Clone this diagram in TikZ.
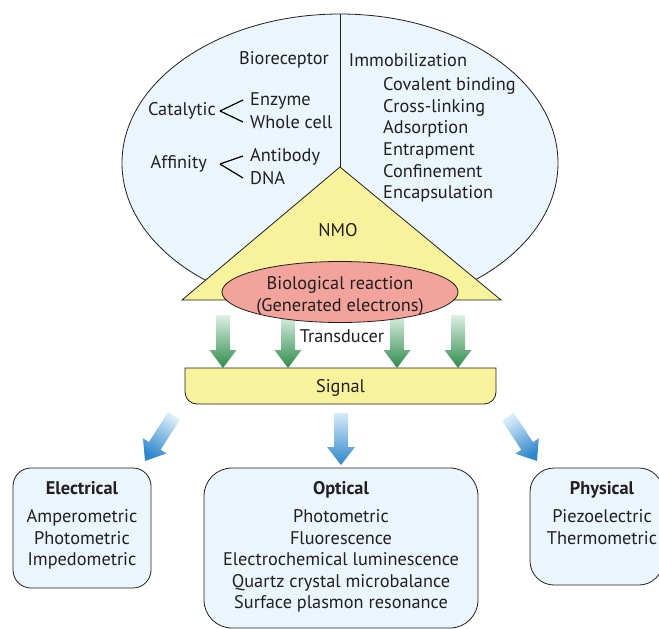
\documentclass[tikz,border=0pt]{standalone}
\usepackage{fontspec}
\setmainfont{PT Sans}
\usetikzlibrary{calc}

\definecolor{paleblue}{HTML}{EAF6FC}
\definecolor{padyellow}{HTML}{F8F29C}
\definecolor{salmon}{HTML}{F2A39B}
\definecolor{inkgray}{HTML}{231F20}
\definecolor{leafgreen}{HTML}{2E8B4A}
\definecolor{leafpale}{HTML}{DDF0E4}
\definecolor{skyblue}{HTML}{2E86CB}
\definecolor{skypale}{HTML}{D6ECF8}

\begin{document}
\begin{tikzpicture}[x=1pt, y=-1pt,
    every node/.style={text=inkgray, inner sep=1pt, font=\fontsize{18.3}{21.6}\selectfont},
    outline/.style={draw=inkgray, line width=0.8pt},
    techbox/.style={outline, fill=paleblue, rounded corners=#1},
    bracket/.style={draw=black, line width=1.2pt}]
\useasboundingbox (0,0) rectangle (659,629);

\draw[outline, fill=paleblue] (340,163) ellipse[x radius=218, y radius=149];
\draw[outline] (340,14) -- (340,167);
\node (biorec) at (284,60) {Bioreceptor};
\node (immob) at (408,60) {Immobilization};
\node[anchor=east] (cat) at (217,111) {Catalytic};
\node[anchor=west] (enz) at (249,101) {Enzyme};
\node[anchor=west] (whole) at (249,122) {Whole cell};
\node[anchor=east] (aff) at (208,164) {Affinity};
\node[anchor=west] (antib) at (249,157) {Antibody};
\node[anchor=west] (dna) at (249,178) {DNA};
\draw[bracket] ([xshift=3pt]cat.east) -- ([xshift=-6pt, yshift=1pt]enz.west);
\draw[bracket] ([xshift=3pt]cat.east) -- ([xshift=-6pt]whole.west);
\draw[bracket] ([xshift=12pt]aff.east) -- ([xshift=-6pt, yshift=1pt]antib.west);
\draw[bracket] ([xshift=12pt]aff.east) -- ([xshift=-6pt]dna.west);
\node[anchor=west, align=left] (immlist) at (382,140)
  {Covalent binding\\Cross-linking\\Adsorption\\Entrapment\\Confinement\\Encapsulation};

\draw[outline, fill=padyellow] (340,167) -- (501,300) -- (182,300) -- cycle;
\node (nmo) at (338,230) {NMO};

\draw[outline, fill=padyellow] (185,368) -- (496,368) -- (496,392)
  arc[start angle=0, end angle=90, radius=12] -- (197,404)
  arc[start angle=90, end angle=180, radius=12] -- cycle;
\node[minimum width=311pt, minimum height=36pt, inner sep=0pt] (sig) at (340.5,388) {Signal};

\foreach \n/\xx in {1/223, 2/288, 3/397, 4/458} {
  \coordinate (gt\n) at (\xx,315);
  \coordinate (gh\n) at (\xx,368);
  \coordinate (gm\n) at ($(gh\n)!18pt!(gt\n)$);
  \shade[top color=leafpale, bottom color=leafgreen]
    ($(gt\n)!7pt!90:(gh\n)$) -- ($(gm\n)!7pt!90:(gh\n)$) -- ($(gm\n)!13.5pt!90:(gh\n)$)
    -- (gh\n) -- ($(gm\n)!13.5pt!-90:(gh\n)$) -- ($(gm\n)!7pt!-90:(gh\n)$)
    -- ($(gt\n)!7pt!-90:(gh\n)$) -- cycle;
}

\draw[outline, fill=salmon] (340,292) ellipse[x radius=118, y radius=30.5];
\node[align=center] (bio) at (340,296) {Biological reaction\\(Generated electrons)};
\node (trans) at (342,336) {Transducer};

\coordinate (bt1) at (174,416); \coordinate (bh1) at (145,461);
\coordinate (bt2) at (341,413); \coordinate (bh2) at (341,465);
\coordinate (bt3) at (508,417); \coordinate (bh3) at (537,461);
\foreach \n/\ang in {1/-33, 2/0, 3/33} {
  \coordinate (bm\n) at ($(bh\n)!18pt!(bt\n)$);
  \shade[top color=skypale, bottom color=skyblue, shading angle=\ang]
    ($(bt\n)!7pt!90:(bh\n)$) -- ($(bm\n)!7pt!90:(bh\n)$) -- ($(bm\n)!14pt!90:(bh\n)$)
    -- (bh\n) -- ($(bm\n)!14pt!-90:(bh\n)$) -- ($(bm\n)!7pt!-90:(bh\n)$)
    -- ($(bt\n)!7pt!-90:(bh\n)$) -- cycle;
}

\node[techbox=18pt, minimum width=138pt, minimum height=120pt] (elec) at (82,528) {};
\node[anchor=north, align=center] (electext) at ([yshift=-13pt]elec.north)
  {\textbf{Electrical}\\[6pt]Amperometric\\Photometric\\Impedometric};
\node[techbox=28pt, minimum width=274pt, minimum height=160pt] (opt) at (341,548) {};
\node[anchor=north, align=center] (opttext) at ([yshift=-13pt]opt.north)
  {\textbf{Optical}\\[6pt]Photometric\\Fluorescence\\Electrochemical luminescence\\Quartz crystal microbalance\\Surface plasmon resonance};
\node[techbox=24pt, minimum width=133pt, minimum height=117pt] (phys) at (596.5,526.5) {};
\node[anchor=north, align=center] (phystext) at ([xshift=5.5pt, yshift=-13pt]phys.north)
  {\textbf{Physical}\\[6pt]Piezoelectric\\Thermometric};
\end{tikzpicture}
\end{document}
